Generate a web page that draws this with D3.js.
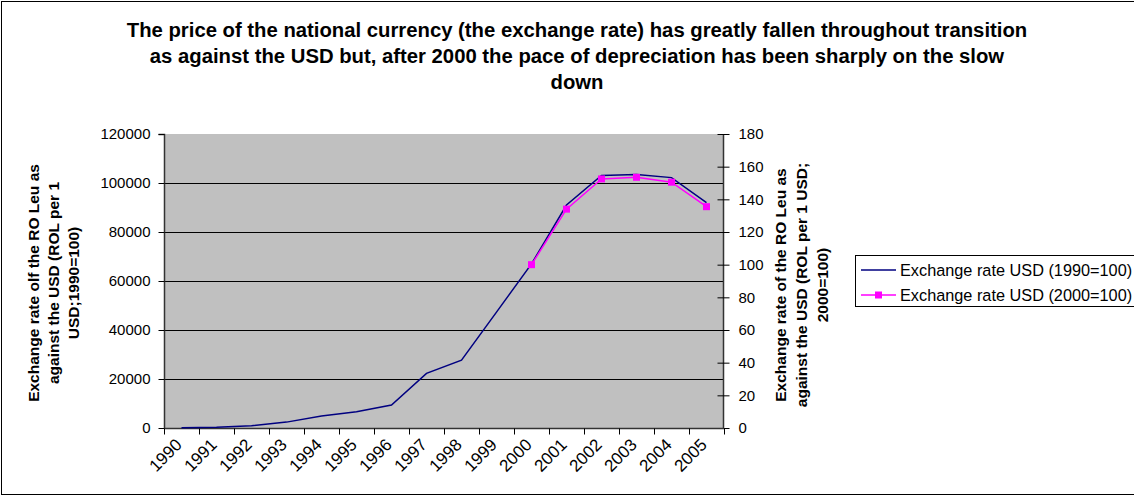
<!DOCTYPE html>
<html>
<head>
<meta charset="utf-8">
<script src="https://cdn.jsdelivr.net/npm/d3@7"></script>
<style>
html,body{margin:0;padding:0;background:#fff;overflow:hidden;}
svg{display:block;font-family:"Liberation Sans",Arial,sans-serif;}
</style>
</head>
<body>
<svg id="chart" width="1134" height="497"></svg>
<script>
// ---- data ----
const years = ["1990","1991","1992","1993","1994","1995","1996","1997","1998","1999","2000","2001","2002","2003","2004","2005"];
const rate1990 = [100, 300, 900, 2400, 4900, 6600, 9400, 22300, 27700, 47300, 67000, 91000, 103100, 103500, 102200, 92000];
const years2000 = ["2000","2001","2002","2003","2004","2005"];
const rate2000 = [100, 134, 152.5, 153.5, 150.5, 135.5];
const leftTicks = [0, 20000, 40000, 60000, 80000, 100000, 120000];
const rightTicks = [0, 20, 40, 60, 80, 100, 120, 140, 160, 180];
const titleLines = [
  "The price of the national currency (the exchange rate) has greatly fallen throughout transition",
  "as against the USD but, after 2000 the pace of depreciation has been sharply on the slow",
  "down"
];
const leftTitle = ["Exchange rate olf the RO Leu as", "against the USD (ROL per 1", "USD;1990=100)"];
const rightTitle = ["Exchange rate of the RO Leu as", "against the USD (ROL per 1 USD;", "2000=100)"];
const legendLabels = ["Exchange rate USD (1990=100)", "Exchange rate USD (2000=100)"];

// ---- layout ----
const svg = d3.select("#chart");
const P = {l:164, r:724, t:134, b:428};
const BLUE = "#000080", MAG = "#FF00FF";

svg.append("rect").attr("x",1.5).attr("y",1.5).attr("width",1300).attr("height",493)
  .attr("fill","#fff").attr("stroke","#000").attr("stroke-width",1);

const x = d3.scaleBand().domain(years).range([P.l, P.r]).padding(0);
const yL = d3.scaleLinear().domain([0,120000]).range([P.b, P.t]);
const yR = d3.scaleLinear().domain([0,180]).range([P.b, P.t]);
const cx = d => x(d) + x.bandwidth()/2;

// plot background
svg.append("rect").attr("x",P.l).attr("y",P.t).attr("width",P.r-P.l).attr("height",P.b-P.t).attr("fill","#C0C0C0");

// gridlines
svg.append("g").selectAll("line").data(leftTicks.slice(1,-1)).join("line")
  .attr("x1",P.l).attr("x2",P.r).attr("y1",d=>Math.round(yL(d))+0.5).attr("y2",d=>Math.round(yL(d))+0.5)
  .attr("stroke","#000").attr("stroke-width",1);

// left axis
const gL = svg.append("g").attr("transform",`translate(${P.l+0.5},0)`)
  .call(d3.axisLeft(yL).tickValues(leftTicks).tickFormat(d=>String(d)).tickSize(6).tickPadding(8));
// right axis
const gR = svg.append("g").attr("transform",`translate(${P.r-0.5},0)`)
  .call(d3.axisRight(yR).tickValues(rightTicks).tickFormat(d=>String(d)).tickSize(6).tickPadding(9));
gR.selectAll(".tick line").attr("x1",-6);
// bottom axis
const gB = svg.append("g").attr("transform",`translate(0,${P.b+0.5})`)
  .call(d3.axisBottom(x).tickValues(years).tickSize(0).tickFormat(d=>d));
gB.selectAll(".tick text").remove();
// category boundary ticks
gB.append("g").selectAll("line").data(d3.range(years.length+1)).join("line")
  .attr("x1",i=>Math.round(P.l + i*x.bandwidth())+0.5).attr("x2",i=>Math.round(P.l + i*x.bandwidth())+0.5)
  .attr("y1",0).attr("y2",6).attr("stroke","#000");
gB.append("g").selectAll("text").data(years).join("text")
  .attr("transform",d=>`translate(${cx(d)-7},${9}) rotate(-45)`)
  .attr("text-anchor","end").attr("dy","0.7em").attr("fill","#000")
  .style("font-size","17px").text(d=>d);

[gL,gR,gB].forEach(g=>{
  g.select(".domain").attr("stroke","#333").attr("stroke-width",1.5);
  g.selectAll(".tick line").attr("stroke","#000");
  g.selectAll(".tick text").style("font-size","15px").attr("fill","#000").style("font-family",'"Liberation Sans",Arial,sans-serif');
});
gL.select(".domain").attr("d",`M-6,${P.t+0.5}H0V${P.b}`);
gR.select(".domain").attr("d",`M0,${P.t}V${P.b}`);
gB.select(".domain").attr("d",`M${P.l},0H${P.r}`);

// series lines
svg.append("path").datum(rate1990.map((v,i)=>[cx(years[i]), yL(v)]))
  .attr("d", d3.line()).attr("fill","none").attr("stroke",BLUE).attr("stroke-width",1.5);
svg.append("path").datum(rate2000.map((v,i)=>[cx(years2000[i]), yR(v)]))
  .attr("d", d3.line()).attr("fill","none").attr("stroke",MAG).attr("stroke-width",1.5);
svg.append("g").selectAll("rect").data(rate2000).join("rect")
  .attr("x",(v,i)=>cx(years2000[i])-3.5).attr("y",v=>yR(v)-3.5).attr("width",7).attr("height",7)
  .attr("fill",MAG);

// title
svg.append("g").selectAll("text").data(titleLines).join("text")
  .attr("x",577).attr("y",(d,i)=>37 + i*26).attr("text-anchor","middle")
  .style("font-size","20.3px").style("font-weight","bold").text(d=>d);

// axis titles
const midY = (P.t+P.b)/2;
svg.append("g").attr("transform",`translate(34,${midY+2}) rotate(-90)`)
  .selectAll("text").data(leftTitle).join("text")
  .attr("x",0).attr("y",(d,i)=>i*20).attr("dy","0.35em").attr("text-anchor","middle")
  .style("font-size","15.5px").style("font-weight","bold").text(d=>d);
svg.append("g").attr("transform",`translate(781,${midY+4}) rotate(-90)`)
  .selectAll("text").data(rightTitle).join("text")
  .attr("x",0).attr("y",(d,i)=>i*21).attr("dy","0.35em").attr("text-anchor","middle")
  .style("font-size","15.5px").style("font-weight","bold").text(d=>d);

// legend
const lg = svg.append("g");
lg.append("rect").attr("x",855.5).attr("y",255.5).attr("width",320).attr("height",51)
  .attr("fill","#fff").attr("stroke","#000");
const rows = [{c:BLUE, m:false, y:270},{c:MAG, m:true, y:295}];
rows.forEach((r,i)=>{
  lg.append("line").attr("x1",861).attr("x2",896).attr("y1",r.y).attr("y2",r.y).attr("stroke",r.c).attr("stroke-width",1.5);
  if(r.m) lg.append("rect").attr("x",878.5-3.5).attr("y",r.y-3.5).attr("width",7).attr("height",7).attr("fill",r.c);
  lg.append("text").attr("x",900).attr("y",r.y).attr("dy","0.35em").style("font-size","16.3px").text(legendLabels[i]);
});
</script>
</body>
</html>
